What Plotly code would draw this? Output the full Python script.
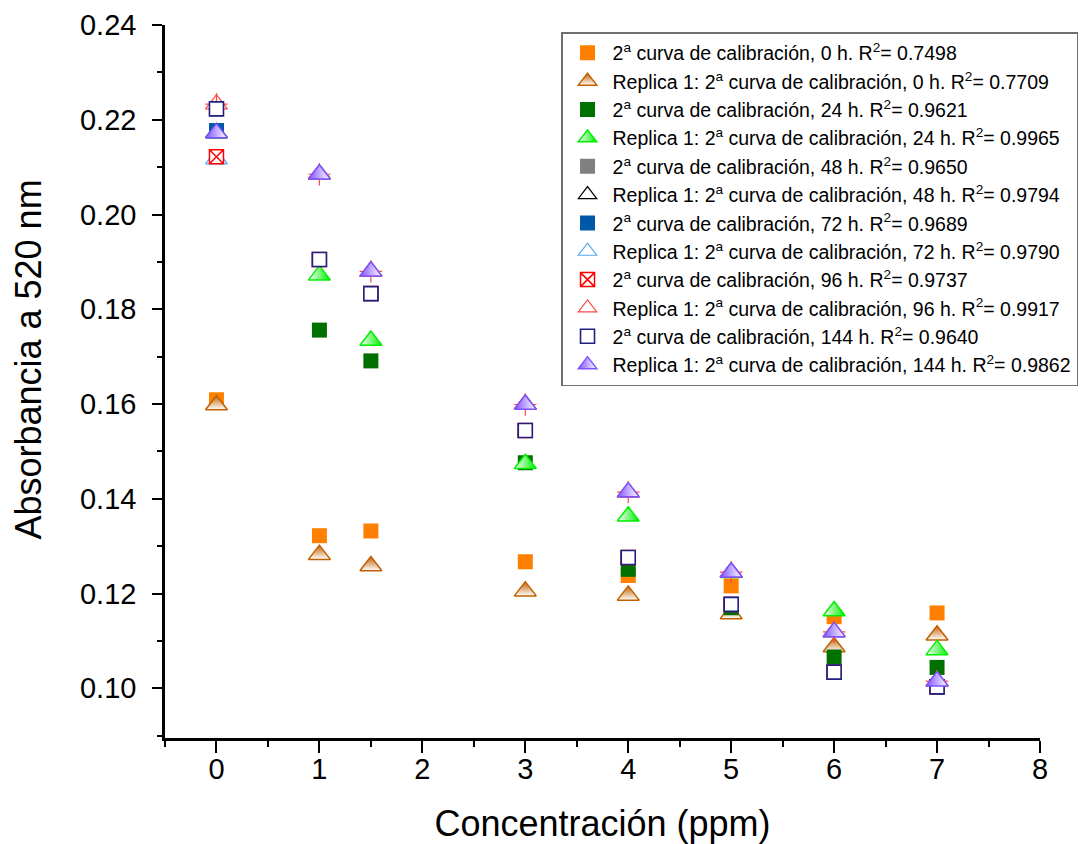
import plotly.graph_objects as go

conc = [0, 1, 1.5, 3, 4, 5, 6, 7]

h0_sq = [0.1609, 0.1322, 0.1332, 0.1267, 0.1238, 0.1216, 0.1151, 0.1159]
h0_rep = [0.1598, 0.1282, 0.1258, 0.1205, 0.1196, 0.1157, 0.1087, 0.1112]
h24_sq = [0.2177, 0.1756, 0.1691, 0.1476, 0.1251, 0.1170, 0.1066, 0.1044]
h24_rep = [0.2172, 0.1872, 0.1734, 0.1474, 0.1363, 0.1244, 0.1163, 0.1081]
h48_sq = [0.2223, 0.1905, 0.1833, 0.1544, 0.1276, 0.1177, 0.1034, 0.1003]
h48_rep = [0.2172, 0.2085, 0.1880, 0.1599, 0.1414, 0.1245, 0.1119, 0.1015]
h72_sq = [0.2177, 0.1905, 0.1833, 0.1544, 0.1276, 0.1177, 0.1034, 0.1003]
h72_rep = [0.2117, 0.2085, 0.1880, 0.1599, 0.1414, 0.1245, 0.1119, 0.1015]
h96_sq = [0.2122, 0.1905, 0.1833, 0.1544, 0.1276, 0.1177, 0.1034, 0.1003]
h96_rep = [0.2233, 0.2085, 0.1880, 0.1599, 0.1414, 0.1245, 0.1119, 0.1015]
h144_sq = [0.2223, 0.1905, 0.1833, 0.1544, 0.1276, 0.1177, 0.1034, 0.1003]
h144_rep = [0.2172, 0.2085, 0.1880, 0.1599, 0.1414, 0.1245, 0.1119, 0.1015]

names = [
    "2<sup>a</sup> curva de calibración, 0 h. R<sup>2</sup>= 0.7498",
    "Replica 1: 2<sup>a</sup> curva de calibración, 0 h. R<sup>2</sup>= 0.7709",
    "2<sup>a</sup> curva de calibración, 24 h. R<sup>2</sup>= 0.9621",
    "Replica 1: 2<sup>a</sup> curva de calibración, 24 h. R<sup>2</sup>= 0.9965",
    "2<sup>a</sup> curva de calibración, 48 h. R<sup>2</sup>= 0.9650",
    "Replica 1: 2<sup>a</sup> curva de calibración, 48 h. R<sup>2</sup>= 0.9794",
    "2<sup>a</sup> curva de calibración, 72 h. R<sup>2</sup>= 0.9689",
    "Replica 1: 2<sup>a</sup> curva de calibración, 72 h. R<sup>2</sup>= 0.9790",
    "2<sup>a</sup> curva de calibración, 96 h. R<sup>2</sup>= 0.9737",
    "Replica 1: 2<sup>a</sup> curva de calibración, 96 h. R<sup>2</sup>= 0.9917",
    "2<sup>a</sup> curva de calibración, 144 h. R<sup>2</sup>= 0.9640",
    "Replica 1: 2<sup>a</sup> curva de calibración, 144 h. R<sup>2</sup>= 0.9862",
]

x_title = "Concentración (ppm)"
y_title = "Absorbancia a 520 nm"

ORANGE = "#FF8000"
BROWN = "#C06000"
DKGREEN = "#007000"
GREEN = "#00F000"
GRAY = "#808080"
BLUE = "#0058A8"
LTBLUE = "#55A8F5"
RED = "#FF0000"
PINK = "#FF4848"
NAVY = "#202080"
PURPLE = "#8052FF"

SQ = 15
TRI = 19
FONT = "Liberation Sans, Arial, sans-serif"

fig = go.Figure()

def add(y, name, marker, showlegend=True):
    fig.add_trace(go.Scatter(x=conc, y=y, mode="markers", name=name,
                             marker=marker, showlegend=showlegend))

add(h0_sq, names[0], dict(symbol="square", size=SQ, color=ORANGE, line=dict(width=0)))
add(h0_rep, names[1], dict(symbol="triangle-up", size=TRI, color=BROWN,
                            gradient=dict(type="vertical", color="white"),
                            line=dict(color=BROWN, width=1.5)))
add(h24_sq, names[2], dict(symbol="square", size=SQ, color=DKGREEN, line=dict(width=0)))
add(h24_rep, names[3], dict(symbol="triangle-up", size=TRI, color="white",
                             gradient=dict(type="horizontal", color=GREEN),
                             line=dict(color=GREEN, width=1.5)))
add(h48_sq, names[4], dict(symbol="square", size=SQ, color=GRAY, line=dict(width=0)))
add(h48_rep, names[5], dict(symbol="triangle-up", size=TRI, color="white",
                             line=dict(color="black", width=1.2)))
add(h72_sq, names[6], dict(symbol="square", size=SQ, color=BLUE, line=dict(width=0)))
add(h72_rep, names[7], dict(symbol="triangle-up", size=TRI, color="white",
                             line=dict(color=LTBLUE, width=1.2)))
add(h72_rep, None, dict(symbol="line-ew", size=11, color=LTBLUE,
                         line=dict(color=LTBLUE, width=1.2)), showlegend=False)
add(h96_sq, names[8], dict(symbol="square-x", size=14, color="white",
                            line=dict(color=RED, width=1.5)))
add(h96_rep, names[9], dict(symbol="triangle-up", size=TRI, color="white",
                             line=dict(color=PINK, width=1.2)))
add(h96_rep, None, dict(symbol="cross-thin", size=16, color=PINK,
                         line=dict(color=PINK, width=1.2)), showlegend=False)
add(h144_sq, names[10], dict(symbol="square", size=14, color="white",
                              line=dict(color=NAVY, width=1.6)))
add(h144_rep, names[11], dict(symbol="triangle-up", size=TRI, color=PURPLE,
                               gradient=dict(type="horizontal", color="white"),
                               line=dict(color=PURPLE, width=1.5)))

fig.update_layout(
    width=1089, height=844,
    margin=dict(l=165, r=49, t=25, b=106, autoexpand=False),
    plot_bgcolor="white", paper_bgcolor="white",
    font=dict(family=FONT, color="black"),
    showlegend=True,
    legend=dict(x=0.4526, y=0.99, xanchor="left", yanchor="top",
                bgcolor="white", bordercolor="#707070", borderwidth=1.5,
                font=dict(size=19.5, family=FONT),
                itemwidth=40, traceorder="normal"),
    annotations=[dict(text=y_title, textangle=-90, xref="paper", yref="paper",
                      x=-0.156, y=0.53, xanchor="center", yanchor="middle",
                      showarrow=False, font=dict(size=36, family=FONT))],
)

fig.update_xaxes(
    range=[-0.5, 8], tick0=0, dtick=1, automargin=False,
    ticks="outside", ticklen=12, tickwidth=2, tickcolor="black",
    showline=True, linewidth=2.5, linecolor="black",
    showgrid=False, zeroline=False,
    tickfont=dict(size=29), ticklabelstandoff=-9,
    minor=dict(dtick=0.5, tick0=0, ticks="outside", ticklen=6, tickwidth=2, tickcolor="black"),
    title=dict(text=x_title, font=dict(size=36), standoff=32),
)
fig.update_yaxes(
    range=[0.0895, 0.24], tick0=0, dtick=0.02, tickformat=".2f", automargin=False,
    ticks="outside", ticklen=10, tickwidth=2, tickcolor="black",
    showline=True, linewidth=2.5, linecolor="black",
    showgrid=False, zeroline=False,
    tickfont=dict(size=29), ticklabelstandoff=10,
    minor=dict(dtick=0.01, tick0=0, ticks="outside", ticklen=5, tickwidth=2, tickcolor="black"),
)

fig.write_html("out.html")
